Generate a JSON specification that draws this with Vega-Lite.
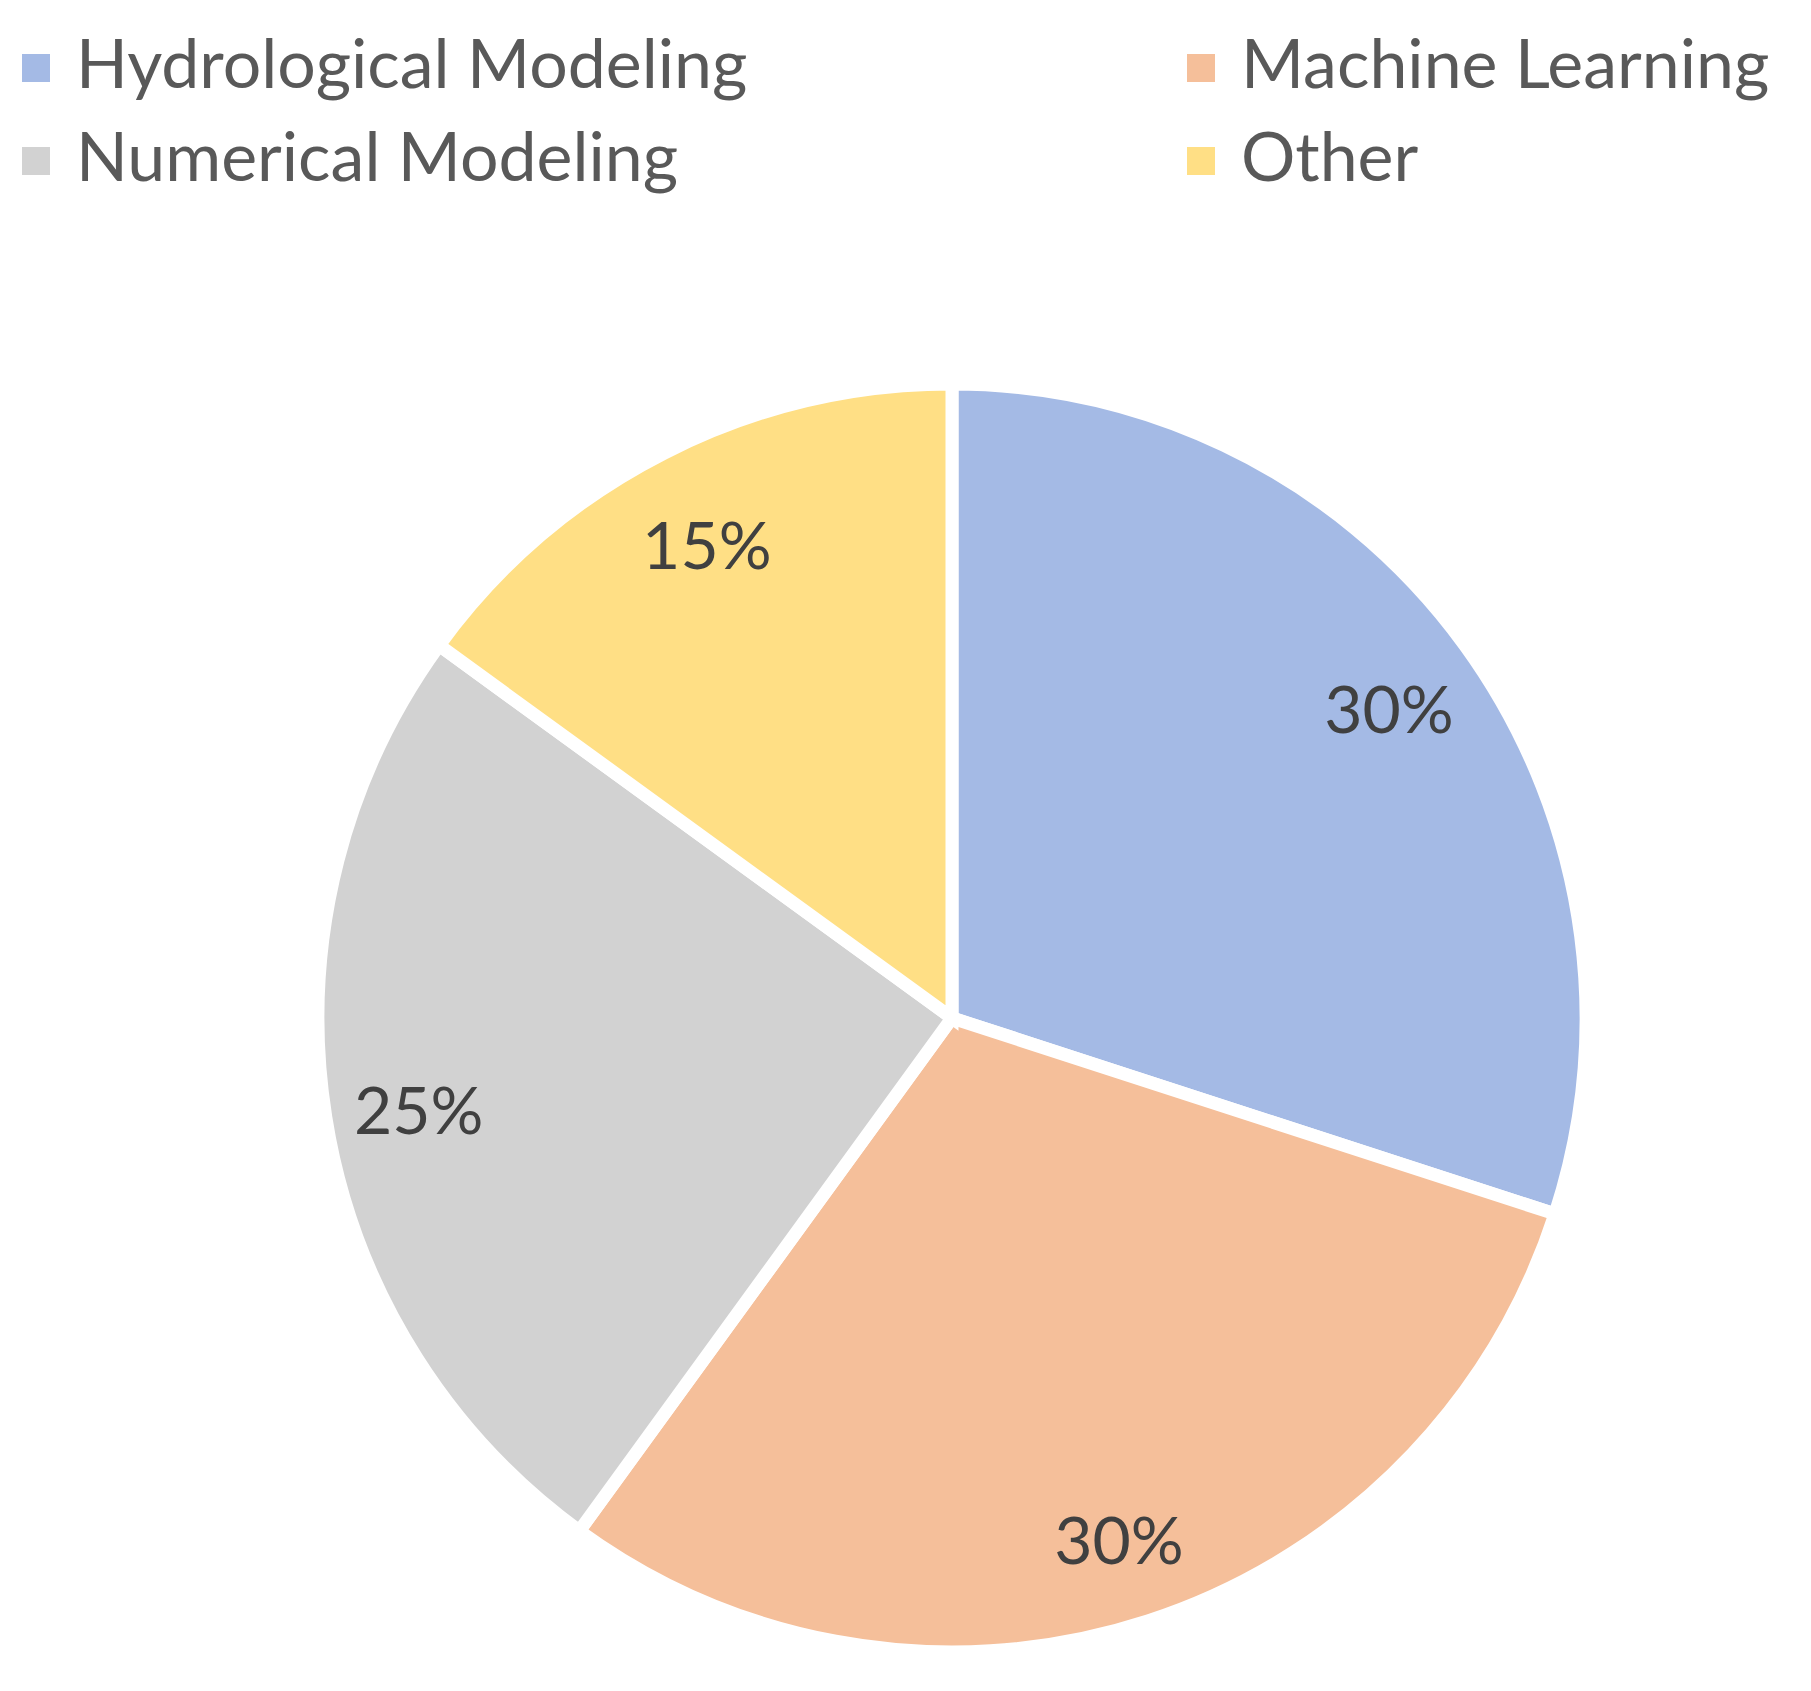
{
  "$schema": "https://vega.github.io/schema/vega-lite/v6.json",
  "width": 1718,
  "height": 1346,
  "autosize": {"type": "none"},
  "padding": {"left": 93, "top": 345, "right": 0, "bottom": 0},
  "background": "white",
  "config": {"view": {"stroke": null}},
  "data": {
    "values": [
      {"category": "Hydrological Modeling", "value": 0.30},
      {"category": "Machine Learning", "value": 0.30},
      {"category": "Numerical Modeling", "value": 0.25},
      {"category": "Other", "value": 0.15}
    ]
  },
  "encoding": {
    "theta": {"field": "value", "type": "quantitative", "stack": true},
    "order": {"field": "category", "sort": "ascending"}
  },
  "layer": [
    {
      "mark": {"type": "arc", "outerRadius": 634, "stroke": "white", "strokeWidth": 13},
      "encoding": {
        "color": {
          "field": "category",
          "type": "nominal",
          "scale": {
            "domain": ["Hydrological Modeling", "Machine Learning", "Numerical Modeling", "Other"],
            "range": ["#a4bae5", "#f5bf9a", "#d2d2d2", "#ffdf85"]
          },
          "legend": {
            "title": null,
            "orient": "none",
            "direction": "horizontal",
            "columns": 2,
            "legendX": -91,
            "legendY": -311,
            "symbolType": "square",
            "symbolSize": 784,
            "symbolStrokeWidth": 0,
            "labelFont": "Lato",
            "labelFontSize": 68,
            "labelColor": "#595959",
            "labelOffset": 6,
            "labelLimit": 1000,
            "rowPadding": 25,
            "columnPadding": 419
          }
        }
      }
    },
    {
      "mark": {"type": "text", "radius": 540, "dy": 12, "font": "Lato", "fontSize": 66, "color": "#404040"},
      "encoding": {
        "text": {"field": "value", "type": "quantitative", "format": ".0%"}
      }
    }
  ]
}
